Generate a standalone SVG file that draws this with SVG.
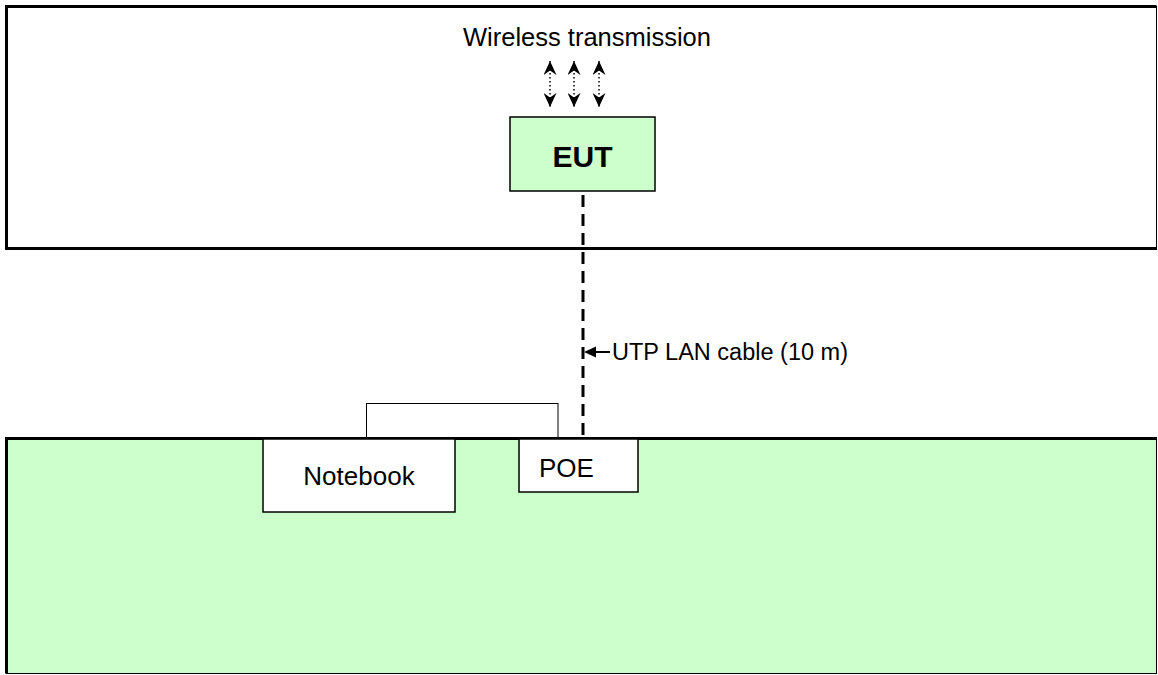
<svg xmlns="http://www.w3.org/2000/svg" width="1158" height="675" viewBox="0 0 1158 675">
  <style>
    .lbl { font-family: "Liberation Sans", Arial, sans-serif; fill: #000; }
    .box { fill: #fff; stroke: #000; stroke-width: 1.5; }
    .green { fill: #CCFFCC; }
    .dotted { stroke: #000; stroke-width: 1.5; stroke-dasharray: 1.5 2.5; fill: none; }
  </style>
  <defs>
    <marker id="stealth" markerUnits="userSpaceOnUse" viewBox="0 0 14 13" refX="14" refY="6.5" markerWidth="14" markerHeight="13" orient="auto-start-reverse">
      <path d="M14,6.5 L0,0 L4.5,6.5 L0,13 Z" fill="#000"/>
    </marker>
  </defs>

  <g id="room-top">
    <rect x="6.5" y="6.5" width="1150" height="242" fill="#fff" stroke="#000" stroke-width="1"/>
    <path d="M6.5,248.5 L6.5,6.5 L1156.5,6.5 M5,248.5 L1157,248.5" fill="none" stroke="#000" stroke-width="3"/>
  </g>

  <g id="room-bottom">
    <rect x="6.5" y="438.5" width="1150" height="235" class="green" stroke="#000" stroke-width="1"/>
    <path d="M6.5,673.5 L6.5,438.5 L1157,438.5" fill="none" stroke="#000" stroke-width="3"/>
  </g>

  <g id="wireless-label">
    <text class="lbl" x="463" y="46" font-size="25.5">Wireless transmission</text>
  </g>

  <g id="wireless-arrows">
    <line class="dotted" x1="550" y1="61" x2="550" y2="107" marker-start="url(#stealth)" marker-end="url(#stealth)"/>
    <line class="dotted" x1="574" y1="61" x2="574" y2="107" marker-start="url(#stealth)" marker-end="url(#stealth)"/>
    <line class="dotted" x1="599" y1="61" x2="599" y2="107" marker-start="url(#stealth)" marker-end="url(#stealth)"/>
  </g>

  <g id="eut">
    <rect x="510" y="117" width="145" height="74" class="green" stroke="#000" stroke-width="1.5"/>
    <text class="lbl" x="582.5" y="167" font-size="30" font-weight="bold" text-anchor="middle">EUT</text>
  </g>

  <g id="connectors">
    <line x1="583" y1="195" x2="583" y2="437" stroke="#000" stroke-width="3" stroke-dasharray="12 7"/>
    <line x1="594" y1="352" x2="610" y2="352" stroke="#000" stroke-width="2"/>
    <polygon points="584,352 596,346.5 596,357.5" fill="#000"/>
  </g>

  <g id="cable-label">
    <text class="lbl" x="612" y="360" font-size="23.5">UTP LAN cable (10 m)</text>
  </g>

  <g id="shelf">
    <rect x="366.5" y="403.5" width="191.5" height="34" fill="#fff" stroke="#000" stroke-width="1"/>
  </g>

  <g id="notebook">
    <rect x="263" y="439" width="192" height="73" class="box"/>
    <text class="lbl" x="359" y="485" font-size="26" text-anchor="middle">Notebook</text>
  </g>

  <g id="poe">
    <rect x="519" y="439" width="119" height="53" class="box"/>
    <text class="lbl" x="539" y="477" font-size="26">POE</text>
  </g>
</svg>
